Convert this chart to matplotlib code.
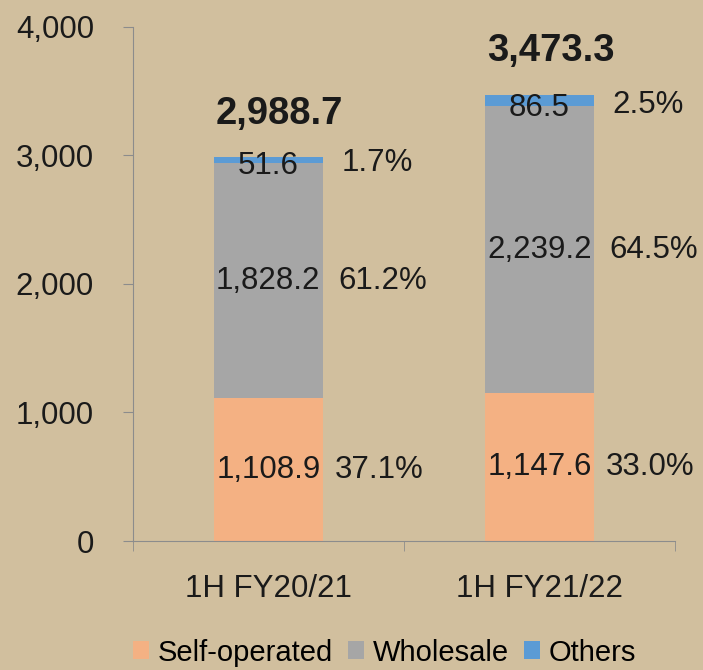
import matplotlib.pyplot as plt
import numpy as np

# valores
categorias = ['1H FY20/21', '1H FY21/22']
self_operated = [1108.9, 1147.6]
wholesale = [1828.2, 2239.2]
others = [51.6, 86.5]
totais = [2988.7, 3473.3]
pct_self = ['37.1%', '33.0%']
pct_wholesale = ['61.2%', '64.5%']
pct_others = ['1.7%', '2.5%']

bg = '#D1BF9E'
plt.rcParams['font.family'] = ['Liberation Sans', 'DejaVu Sans']

fig = plt.figure(figsize=(7.03, 6.7), dpi=100, facecolor=bg)
ax = fig.add_axes([0.189, 0.1925, 0.771, 0.7675])
ax.set_facecolor(bg)

x = np.arange(len(categorias))
w = 0.4
b1 = np.array(self_operated)
b2 = b1 + np.array(wholesale)

ax.bar(x, self_operated, w, color='#F4B183', label='Self-operated')
ax.bar(x, wholesale, w, bottom=b1, color='#A6A6A6', label='Wholesale')
ax.bar(x, others, w, bottom=b2, color='#5B9BD5', label='Others')

fs = 22.5
cor = '#1a1a1a'
for i in range(len(x)):
    ax.text(x[i], self_operated[i] / 2, f'{self_operated[i]:,.1f}', ha='center', va='center', fontsize=fs, color=cor)
    ax.text(x[i], b1[i] + wholesale[i] / 2, f'{wholesale[i]:,.1f}', ha='center', va='center', fontsize=fs, color=cor)
    ax.text(x[i], b2[i] - 20, f'{others[i]:,.1f}', ha='center', va='center', fontsize=fs, color=cor)
    ax.text(x[i] + w / 2 + 0.045, self_operated[i] / 2, pct_self[i], ha='left', va='center', fontsize=fs, color=cor)
    ax.text(x[i] + w / 2 + 0.06, b1[i] + wholesale[i] / 2, pct_wholesale[i], ha='left', va='center', fontsize=fs, color=cor)
    ax.text(x[i] + w / 2 + 0.07, b2[i] + 5, pct_others[i], ha='left', va='center', fontsize=fs, color=cor)
    ax.annotate(f'{totais[i]:,.1f}', (x[i], totais[i]), xytext=(8, 31), textcoords='offset points',
                ha='center', va='center', fontsize=27.5, fontweight='bold', color=cor)

ax.set_xlim(-0.5, 1.5)
ax.set_ylim(0, 4000)
ax.set_yticks([0, 1000, 2000, 3000, 4000])
ax.set_yticklabels([f'{v:,}' for v in [0, 1000, 2000, 3000, 4000]], fontsize=fs, color=cor)
ax.set_xticks(x)
ax.set_xticklabels(categorias, fontsize=fs, color=cor)
ax.set_xticks([-0.5, 0.5, 1.5], minor=True)
ax.tick_params(axis='x', which='major', length=0, pad=24)
ax.tick_params(axis='x', which='minor', length=7, color='#8c8c8c')
ax.tick_params(axis='y', length=7, color='#8c8c8c', pad=21)

for s in ['top', 'right']:
    ax.spines[s].set_visible(False)
for s in ['left', 'bottom']:
    ax.spines[s].set_color('#8c8c8c')

fig.legend(loc='center', bbox_to_anchor=(0.547, 0.026), ncol=3, frameon=False, fontsize=21,
           handlelength=0.55, handleheight=0.55, handletextpad=0.3, columnspacing=0.5)

plt.savefig('out.png', dpi=100, facecolor=bg)
